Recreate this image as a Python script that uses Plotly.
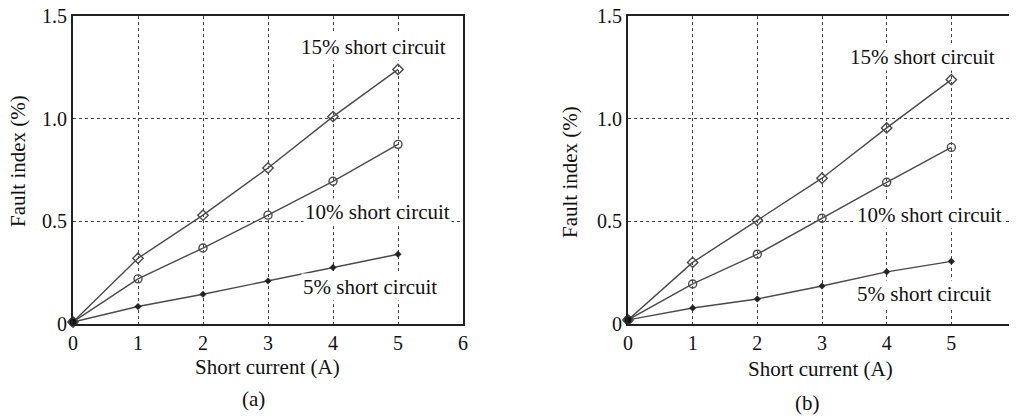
import plotly.graph_objects as go

x_vals = [0, 1, 2, 3, 4, 5]

# Panel (a)
a_15 = [0.01, 0.32, 0.53, 0.76, 1.01, 1.24]
a_10 = [0.01, 0.22, 0.37, 0.53, 0.695, 0.875]
a_5 = [0.01, 0.085, 0.145, 0.21, 0.275, 0.34]

# Panel (b)
b_15 = [0.02, 0.30, 0.505, 0.71, 0.955, 1.19]
b_10 = [0.02, 0.195, 0.34, 0.515, 0.69, 0.86]
b_5 = [0.02, 0.078, 0.122, 0.185, 0.254, 0.305]

series_names = ["15% short circuit", "10% short circuit", "5% short circuit"]
x_ticks = [0, 1, 2, 3, 4, 5, 6]
y_ticks = [0, 0.5, 1.0, 1.5]
y_ticktext = ["0", "0.5", "1.0", "1.5"]
x_title = "Short current (A)"
y_title = "Fault index (%)"
panel_labels = ["(a)", "(b)"]

FONT = "Liberation Serif, Times New Roman, serif"
LINE = "#4a4a4a"
FS = 21
TFS = 20

fig = go.Figure()

markers = [
    dict(symbol="diamond-open", size=8, color=LINE, line=dict(width=1.4, color=LINE)),
    dict(symbol="circle-open", size=8, color=LINE, line=dict(width=1.4, color=LINE)),
    dict(symbol="diamond", size=5, color="#222", line=dict(width=0.5, color="#222")),
]

for data, xa, ya in [((a_15, a_10, a_5), "x", "y"), ((b_15, b_10, b_5), "x2", "y2")]:
    for ys, m, name in zip(data, markers, series_names):
        fig.add_trace(go.Scatter(
            x=x_vals, y=ys, mode="lines+markers", name=name,
            line=dict(color=LINE, width=1.4), marker=m,
            xaxis=xa, yaxis=ya, showlegend=False, cliponaxis=False,
        ))
    fig.add_trace(go.Scatter(
        x=[x_vals[0]], y=[data[0][0]], mode="markers",
        marker=dict(symbol="circle", size=7, color="#111"),
        xaxis=xa, yaxis=ya, showlegend=False, cliponaxis=False,
    ))

ax_common = dict(
    showgrid=True, gridcolor="#444", griddash="dot", gridwidth=1,
    showline=True, linecolor="#222", linewidth=2, mirror=True,
    zeroline=False, ticks="", automargin=False, ticklabeloverflow="allow",
    tickfont=dict(family=FONT, size=TFS, color="#111"),
)

W, H = 1017, 418
OFF = 8  # page body margin offset


def px(xp):
    return (xp - OFF) / W


def py(yp):
    return 1 - (yp - OFF) / H


fig.update_layout(
    width=W, height=H,
    margin=dict(l=0, r=0, t=0, b=0, autoexpand=False),
    paper_bgcolor="white", plot_bgcolor="white",
    font=dict(family=FONT, size=FS, color="#111"),
    xaxis=dict(domain=[px(73), px(463)], range=[0, 6], tickvals=x_ticks, anchor="y", **ax_common),
    yaxis=dict(domain=[py(324), py(16)], range=[0, 1.5], tickvals=y_ticks, ticktext=y_ticktext, anchor="x", **ax_common),
    xaxis2=dict(domain=[px(628), px(1016)], range=[0, 6], tickvals=x_ticks, anchor="y2", **ax_common),
    yaxis2=dict(domain=[py(324), py(16)], range=[0, 1.5], tickvals=y_ticks, ticktext=y_ticktext, anchor="x2", **ax_common),
)

ann = []
label_pos_a = [(4.62, 1.35), (4.69, 0.545), (4.57, 0.18)]
label_pos_b = [(4.55, 1.30), (4.66, 0.53), (4.58, 0.146)]
for pos, xr, yr in [(label_pos_a, "x", "y"), (label_pos_b, "x2", "y2")]:
    for (lx, ly), name in zip(pos, series_names):
        ann.append(dict(x=lx, y=ly, xref=xr, yref=yr, text=name, showarrow=False,
                        xanchor="center", yanchor="middle",
                        bgcolor="white", borderpad=1,
                        font=dict(family=FONT, size=FS, color="#111")))

for cx, cy in [(267, 367), (820, 369)]:
    ann.append(dict(x=px(cx), y=py(cy), xref="paper", yref="paper", text=x_title, showarrow=False,
                    xanchor="center", yanchor="middle",
                    font=dict(family=FONT, size=FS, color="#111")))
for cx, cy in [(18, 161), (570, 172)]:
    ann.append(dict(x=px(cx), y=py(cy), xref="paper", yref="paper", text=y_title, showarrow=False,
                    xanchor="center", yanchor="middle",
                    textangle=-90, font=dict(family=FONT, size=FS, color="#111")))
for (cx, cy), lab in zip([(253, 399), (807, 403)], panel_labels):
    ann.append(dict(x=px(cx), y=py(cy), xref="paper", yref="paper", text=lab, showarrow=False,
                    xanchor="center", yanchor="middle",
                    font=dict(family=FONT, size=FS, color="#111")))

fig.update_layout(annotations=ann)
fig.write_html("out.html")
